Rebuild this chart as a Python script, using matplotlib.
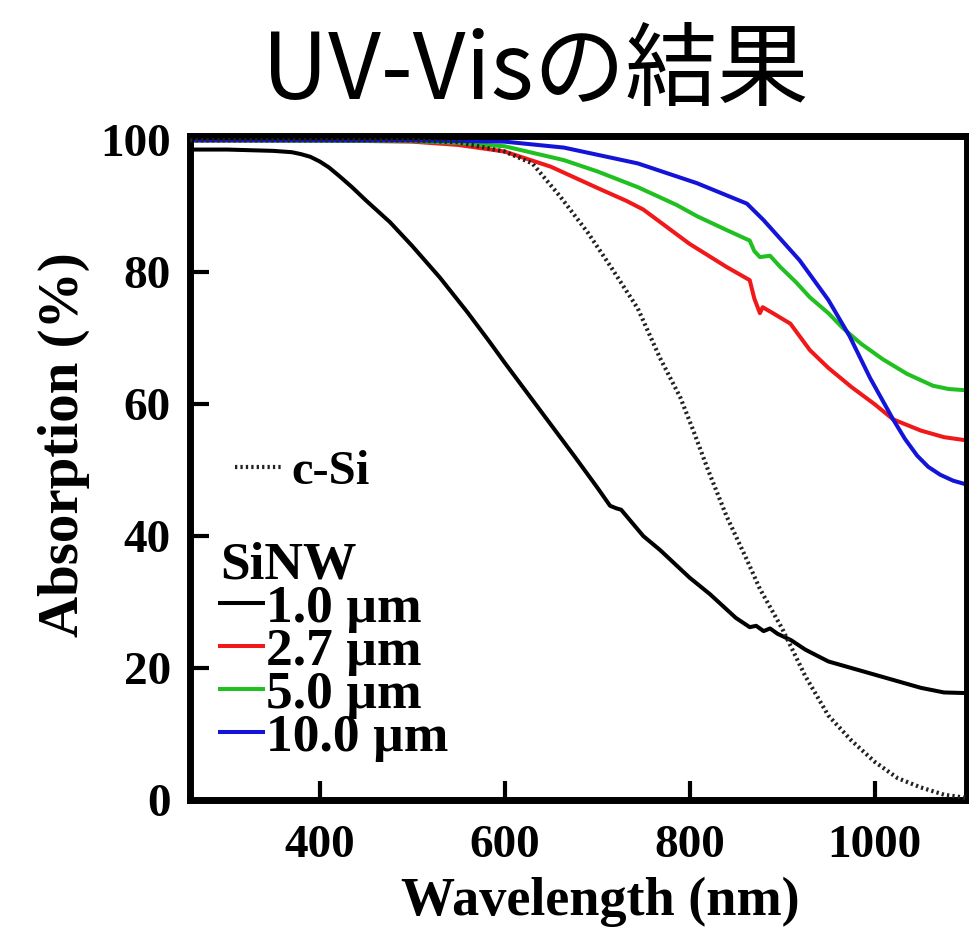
import matplotlib.pyplot as plt

# wavelength (nm) / absorption (%) for each sample
wl_csi = [260, 500, 550, 600, 630, 660, 690, 714, 744, 768, 790, 804, 820, 840, 860, 876, 900, 925, 950, 975,
          1000, 1025, 1050, 1075, 1100]
ab_csi = [100, 100, 99.7, 98.3, 96.5, 91.5, 86, 81, 74.5, 67, 61, 56, 50, 43, 37, 32, 26, 18.8, 12.8, 9,
          5.8, 3.3, 1.9, 0.8, 0.3]

wl_10 = [260, 300, 350, 370, 380, 390, 400, 410, 422, 435, 450, 476, 500, 530, 560, 584, 600, 625, 650, 675, 700,
         714, 721, 726, 750, 768, 800, 822, 850, 865, 872, 880, 887, 895, 910, 925, 950, 975, 1000, 1025, 1050,
         1075, 1100]
ab_10 = [98.6, 98.6, 98.4, 98.2, 97.9, 97.5, 96.8, 95.9, 94.5, 92.9, 90.9, 87.6, 84.0, 79.2, 73.9, 69.4, 66.3, 61.6,
         56.9, 52.2, 47.4, 44.6, 44.2, 44.0, 40.0, 37.9, 33.7, 31.2, 27.6, 26.2, 26.4, 25.6, 26.0, 25.2, 24.2, 22.8,
         21.0, 20, 19.0, 18.0, 17.0, 16.3, 16.2]

wl_27 = [260, 400, 500, 550, 600, 650, 700, 732, 750, 800, 840, 865, 870, 876, 879, 890, 909, 930, 950,
         975, 1000, 1020, 1050, 1075, 1100]
ab_27 = [100, 100, 99.8, 99.3, 98.3, 96, 92.8, 90.8, 89.5, 84.3, 80.8, 78.8, 76, 73.8, 74.7, 73.8, 72.2, 68.2, 65.5,
         62.6, 60.0, 57.7, 56.0, 55.0, 54.5]

wl_50 = [260, 500, 550, 600, 664, 700, 744, 786, 808, 840, 865, 870, 876, 887, 898, 915, 930, 950, 966, 985, 1009,
         1035, 1063, 1080, 1100]
ab_50 = [100, 99.9, 99.6, 99.1, 97, 95.3, 92.9, 90.2, 88.5, 86.4, 84.8, 83.2, 82.3, 82.5, 80.8, 78.5, 76.2, 73.8, 71.5,
         69.2, 66.8, 64.6, 62.8, 62.3, 62.1]

wl_100 = [260, 500, 600, 664, 744, 808, 862, 880, 919, 950, 973, 995, 1020, 1033, 1046, 1058, 1071, 1085, 1100]
ab_100 = [100.0, 100, 99.8, 98.9, 96.5, 93.5, 90.4, 87.9, 81.8, 75.8, 70.3, 64.0, 57.7, 54.7, 52.2, 50.5, 49.3, 48.4,
          47.8]

labels = ['1.0 µm', '2.7 µm', '5.0 µm', '10.0 µm']
colors = ['black', '#f01818', '#20c020', '#1414d8']

serif = {'family': 'Liberation Serif', 'weight': 'bold'}

fig = plt.figure(figsize=(9.7, 9.34), dpi=100)
ax = fig.add_axes([0.196, 0.1435, 0.801, 0.7105])

series = [(wl_10, ab_10), (wl_27, ab_27), (wl_50, ab_50), (wl_100, ab_100)]
handles = []
for (w, a), c, lab in zip(series, colors, labels):
    ln, = ax.plot(w, a, color=c, lw=2.9, label=lab)
    handles.append(ln)
csi, = ax.plot(wl_csi, ab_csi, color='#222222', lw=3.0, ls=(0, (0.55, 0.75)), label='c-Si', zorder=5)

ax.set_xlim(260, 1100)
ax.set_ylim(0, 100.6)
ax.set_xticks([400, 600, 800, 1000])
ax.set_yticks([0, 20, 40, 60, 80, 100])
ax.tick_params(direction='in', length=14, width=3, pad=14, labelsize=34)
ax.tick_params(axis='x', pad=18)
for lab in ax.get_xticklabels() + ax.get_yticklabels():
    lab.set_fontfamily('Liberation Serif')
    lab.set_fontweight('bold')
for s in ax.spines.values():
    s.set_linewidth(5)

ax.set_xlabel('Wavelength (nm)', fontdict=serif, fontsize=39)
ax.set_ylabel('Absorption (%)', fontdict=serif, fontsize=41)
ax.xaxis.set_label_coords(0.528, -0.115)
ax.yaxis.set_label_coords(-0.129, 0.535)

leg1 = ax.legend(handles=[csi], loc='upper left', bbox_to_anchor=(0.058, 0.527), frameon=False,
                 handlelength=0.95, handletextpad=0.2, borderpad=0, borderaxespad=0,
                 prop={'family': 'Liberation Serif', 'weight': 'bold', 'size': 35})
ax.add_artist(leg1)
leg2 = ax.legend(handles=handles, loc='upper left', bbox_to_anchor=(0.039, 0.389), frameon=False,
                 title='SiNW', alignment='left', handlelength=0.8, handletextpad=0.05, borderpad=0,
                 borderaxespad=0, labelspacing=-0.1,
                 prop={'family': 'Liberation Serif', 'weight': 'bold', 'size': 38.5},
                 title_fontproperties={'family': 'Liberation Serif', 'weight': 'bold', 'size': 38.5})

fig.text(0.552, 0.922, 'UV-Visの結果', ha='center', va='center', fontsize=66,
         family=['Noto Sans CJK JP', 'DejaVu Sans'])

fig.savefig('out.png', dpi=100)
